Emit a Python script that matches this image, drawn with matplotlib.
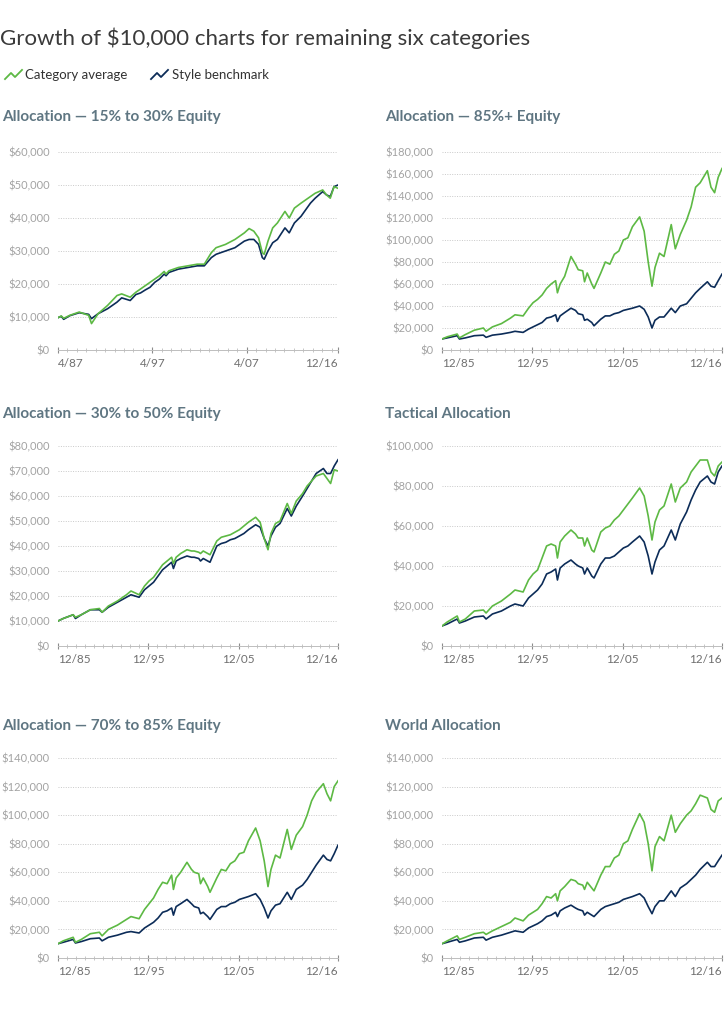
import numpy as np
import matplotlib.pyplot as plt
from matplotlib.ticker import FuncFormatter, FixedLocator

plt.rcParams['font.family'] = ['Lato', 'DejaVu Sans']

GREEN = '#5DB944'
NAVY = '#0C2C58'
TITLE_C = '#5F7682'
TICK_C = '#A3A3A3'

# values in $ thousands
dates_p1 = [1987.25, 1987.6, 1987.85, 1988.5, 1989.5, 1990.5, 1990.8, 1991.5, 1992.5, 1993.5,
            1994.0, 1994.9, 1995.5, 1996.0, 1996.5, 1997.0, 1997.5, 1998.0, 1998.5, 1998.7,
            1999.0, 2000.0, 2001.0, 2002.0, 2002.75, 2003.5, 2004.0, 2005.0, 2006.0, 2007.0,
            2007.5, 2008.0, 2008.5, 2008.9, 2009.1, 2009.5, 2010.0, 2010.5, 2011.3, 2011.75,
            2012.3, 2013.0, 2013.5, 2014.0, 2014.5, 2015.3, 2015.7, 2016.1, 2016.5, 2016.92]

dates = [1985.92, 1986.5, 1987.6, 1987.85, 1988.5, 1989.5, 1990.5, 1990.8, 1991.5, 1992.5,
         1993.5, 1994.0, 1994.9, 1995.5, 1996.0, 1996.5, 1997.0, 1997.5, 1998.0, 1998.5,
         1998.7, 1999.0, 1999.5, 2000.2, 2000.7, 2001.0, 2001.5, 2001.7, 2002.0, 2002.5,
         2002.75, 2003.5, 2004.0, 2004.5, 2005.0, 2005.5, 2006.0, 2006.5, 2007.0, 2007.8,
         2008.3, 2008.75, 2009.17, 2009.5, 2010.0, 2010.5, 2011.3, 2011.75, 2012.3, 2013.0,
         2013.5, 2014.0, 2014.5, 2015.3, 2015.7, 2016.1, 2016.5, 2016.92]

# Allocation 15% to 30% Equity
cat_15_30 = [9.8, 10.3, 9.6, 10.5, 11.5, 10.5, 8.0, 11, 13.5, 16.5,
             17, 16, 17.5, 18.5, 19.5, 20.5, 21.5, 22.5, 23.8, 23,
             24, 25, 25.5, 26, 26, 29.5, 31, 32, 33.5, 35.5,
             36.8, 36, 34, 29.5, 29, 33, 37, 38.5, 42, 40,
             43, 44.5, 45.5, 46.5, 47.5, 48.5, 47, 46, 49.5, 49]
bm_15_30 = [9.8, 10.2, 9.3, 10.4, 11.3, 10.8, 9.5, 11, 12.5, 14.5,
            15.8, 15, 16.8, 17.3, 18.2, 19, 20.5, 21.5, 23, 22.5,
            23.5, 24.5, 25, 25.5, 25.5, 28, 29, 30, 31, 33,
            33.5, 33.5, 32, 28, 27.5, 30, 32.5, 33.5, 37, 35.5,
            38.5, 40.5, 42.5, 44.5, 46, 48, 47, 46.5, 49.5, 50]

# Allocation 85%+ Equity
cat_85 = [10, 12, 14.5, 11, 14, 18, 20, 17, 21, 24,
          29, 32, 31, 38, 43, 46, 50, 56, 60, 63,
          52, 60, 67, 85, 78, 73, 72, 62, 70, 60,
          56, 70, 80, 78, 87, 90, 100, 102, 112, 121,
          108, 80, 58, 75, 88, 85, 114, 92, 105, 118,
          130, 148, 152, 163, 148, 143, 157, 165]
bm_85 = [10, 11, 13, 10, 11, 13, 13.5, 11.5, 13.5, 14.5,
         16, 17, 16, 19, 21, 23, 25, 29, 30, 32,
         26, 31, 34, 38, 36, 33, 32, 27, 28, 25,
         22, 28, 31, 31, 33, 34, 36, 37, 38, 40,
         37, 30, 20, 27, 30, 30, 38, 34, 40, 42,
         47, 52, 56, 62, 58, 57, 63, 69]

# Allocation 30% to 50% Equity
cat_30_50 = [10, 11, 12.5, 11.5, 12.5, 14.5, 15, 13.5, 16, 18,
             20.5, 22, 20.5, 24, 26, 27.5, 30, 32.5, 34, 35.5,
             33, 35.5, 37, 38.5, 38, 38, 37.5, 37, 38, 37,
             36.5, 42, 43.5, 44, 44.5, 45.5, 46.5, 48, 49.5, 51.5,
             49.5, 43, 38.5, 45, 49, 50, 57, 53, 58, 61,
             64, 66, 68, 69, 67, 65, 70.5, 70]
bm_30_50 = [10, 11, 12.5, 11, 12.5, 14.5, 14.5, 13.5, 15.5, 17.5,
            19.5, 20.5, 19.5, 22.5, 24, 25.5, 28, 30.5, 32, 33.5,
            31, 34, 35, 36, 35.5, 35.5, 35, 34, 35, 34,
            33.5, 40, 41, 41.5, 42.5, 43, 44, 45, 46.5, 48.5,
            47.5, 43, 40, 44, 47.5, 49, 55, 52, 56, 60,
            63, 66, 69, 71, 69, 69, 72, 74.5]

# Tactical Allocation
cat_tact = [10, 12, 15, 12, 13.5, 17.5, 18, 16.5, 20, 22.5,
            26, 28, 27, 33, 36, 38, 44, 50, 51, 50,
            44, 52, 55, 58, 56, 54, 54, 50, 54, 48,
            47, 57, 59, 60, 63, 65, 68, 71, 74, 79,
            75, 65, 53, 62, 68, 70, 81, 72, 79, 82,
            87, 90, 93, 93, 87, 85, 90, 92]
bm_tact = [10, 11, 13.5, 11.5, 12.5, 14.5, 15, 13.5, 16, 17.5,
           20, 21, 20, 24, 26, 28, 31, 36, 37, 38.5,
           33, 39, 41, 43, 41, 40, 39, 36, 39, 35,
           34, 41, 44, 44, 45, 47, 49, 50, 52, 55,
           52, 45, 36, 42, 48, 50, 58, 53, 61, 67,
           73, 78, 82, 85, 82, 81, 87, 90]

# Allocation 70% to 85% Equity
cat_70_85 = [10, 12, 14.5, 11, 13, 17, 18, 15.5, 20, 23,
             27, 29, 27.5, 34, 38, 42, 48, 53, 52, 58,
             48, 56, 60, 67, 62, 60, 59, 52, 56, 50,
             46, 56, 62, 61, 66, 68, 73, 74, 82, 91,
             82, 68, 50, 62, 72, 70, 90, 76, 86, 92,
             100, 110, 116, 122, 115, 110, 120, 124]
bm_70_85 = [10, 11, 13, 10.5, 11.5, 13.5, 14, 12, 14.5, 16,
            18, 18.5, 17.5, 21, 23, 25, 28, 32, 33, 35,
            30, 36, 38, 41, 38, 36, 35, 31, 32, 29,
            27, 34, 36, 36, 38, 39, 41, 42, 43, 45,
            41, 35, 28, 33, 37, 38, 46, 41, 48, 51,
            55, 60, 65, 72, 69, 68, 73, 79]

# World Allocation
cat_world = [10, 12, 15.5, 13, 14.5, 17, 18, 16.5, 19, 22,
             25, 28, 26, 30, 32, 34, 38, 43, 42, 45,
             40, 47, 50, 55, 54, 52, 51, 48, 53, 49,
             47, 58, 64, 64, 70, 72, 80, 82, 90, 101,
             95, 80, 61, 78, 85, 82, 100, 88, 94, 100,
             103, 108, 114, 112, 104, 102, 110, 112]
bm_world = [10, 11, 13, 11, 12, 14, 14.5, 12.5, 14.5, 16,
            18, 19, 18, 21, 22.5, 24, 26, 29, 30, 32,
            29, 33, 35, 37, 35, 34, 33, 30, 32, 30,
            29, 34, 36, 37, 38, 39, 41, 42, 43, 45,
            42, 36, 31, 36, 40, 40, 47, 43, 49, 52,
            55, 58, 62, 67, 64, 64, 68, 72]

titles = ['Allocation \u2014 15% to 30% Equity', 'Allocation \u2014 85%+ Equity',
          'Allocation \u2014 30% to 50% Equity', 'Tactical Allocation',
          'Allocation \u2014 70% to 85% Equity', 'World Allocation']
ymax = [60000, 180000, 80000, 100000, 140000, 140000]
ystep = [10000, 20000, 10000, 20000, 20000, 20000]

fig = plt.figure(figsize=(7.25, 10.17), dpi=100)
W, H = 725.0, 1017.0

# pixel boxes: left, right, top, bottom of plot area
boxes = [(58, 338, 152, 350), (442, 722, 152, 350),
         (58, 338, 446, 646), (442, 722, 446, 646),
         (58, 338, 758, 958), (442, 722, 758, 958)]
title_y = [117, 117, 414, 414, 726, 726]
title_x = [2, 385, 2, 385, 2, 385]

panels = [(dates_p1, cat_15_30, bm_15_30), (dates, cat_85, bm_85),
          (dates, cat_30_50, bm_30_50), (dates, cat_tact, bm_tact),
          (dates, cat_70_85, bm_70_85), (dates, cat_world, bm_world)]

for i, (d, cat, bm) in enumerate(panels):
    l, r, t, b = boxes[i]
    ax = fig.add_axes([l / W, 1 - b / H, (r - l) / W, (b - t) / H])
    x = np.array(d)
    ax.plot(x, np.array(bm) * 1000, color=NAVY, lw=1.2, zorder=3)
    ax.plot(x, np.array(cat) * 1000, color=GREEN, lw=1.2, zorder=4)
    ax.set_xlim(d[0], d[-1])
    ax.set_ylim(0, ymax[i])
    ax.set_yticks(np.arange(0, ymax[i] + 1, ystep[i]))
    ax.yaxis.set_major_formatter(FuncFormatter(lambda v, p: '${:,.0f}'.format(v)))
    ax.grid(axis='y', color='#C9C9C9', linestyle=(0, (1, 1.5)), lw=0.7)
    ax.set_axisbelow(True)
    for s in ['top', 'right', 'left']:
        ax.spines[s].set_visible(False)
    ax.spines['bottom'].set_color('#BDBDBD')
    ax.spines['bottom'].set_linewidth(0.7)
    ax.spines['bottom'].set_zorder(5)
    if i == 0:
        major = [1987.25, 1997.25, 2007.25, 2016.92]
        labels = ['4/87', '4/97', '4/07', '12/16']
        minor = np.arange(1987.25, 2016.9, 1.0)
    else:
        major = [1985.92, 1995.92, 2005.92, 2016.92]
        labels = ['12/85', '12/95', '12/05', '12/16']
        minor = np.arange(1985.92, 2016.93, 1.0)
    ax.xaxis.set_major_locator(FixedLocator(major))
    ax.xaxis.set_minor_locator(FixedLocator(minor))
    ax.set_xticklabels(labels)
    xl = ax.get_xticklabels()
    xl[0].set_ha('left')
    xl[-1].set_ha('right')
    ax.tick_params(axis='x', which='major', direction='inout', length=5, width=0.8,
                   color='#8C8C8C', labelsize=8.5, labelcolor='#6F6F6F', pad=3)
    ax.tick_params(axis='x', which='minor', direction='inout', length=3, width=0.6,
                   color='#BDBDBD')
    ax.tick_params(axis='y', length=0, labelsize=8, labelcolor=TICK_C, pad=6)
    fig.text(title_x[i] / W, 1 - title_y[i] / H, titles[i],
             fontsize=11, fontweight='bold', color=TITLE_C, va='center', ha='left')

fig.text(0.0, 1 - 38 / H, 'Growth of $10,000 charts for remaining six categories',
         fontsize=16, fontweight='normal', color='#3A3A3A', va='center', ha='left')

# legend
ly = 1 - 75 / H
fig.lines.append(plt.Line2D([5 / W, 11 / W, 15 / W, 22 / W], [ly - 0.004, ly + 0.002, ly - 0.002, ly + 0.005],
                            transform=fig.transFigure, color=GREEN, lw=1.3))
fig.text(25 / W, ly, 'Category average', fontsize=9.5, color='#333333', va='center')
fig.lines.append(plt.Line2D([151 / W, 157 / W, 161 / W, 168 / W], [ly - 0.004, ly + 0.002, ly - 0.002, ly + 0.005],
                            transform=fig.transFigure, color=NAVY, lw=1.3))
fig.text(172 / W, ly, 'Style benchmark', fontsize=9.5, color='#333333', va='center')

fig.savefig('out.png', dpi=100, facecolor='white')
